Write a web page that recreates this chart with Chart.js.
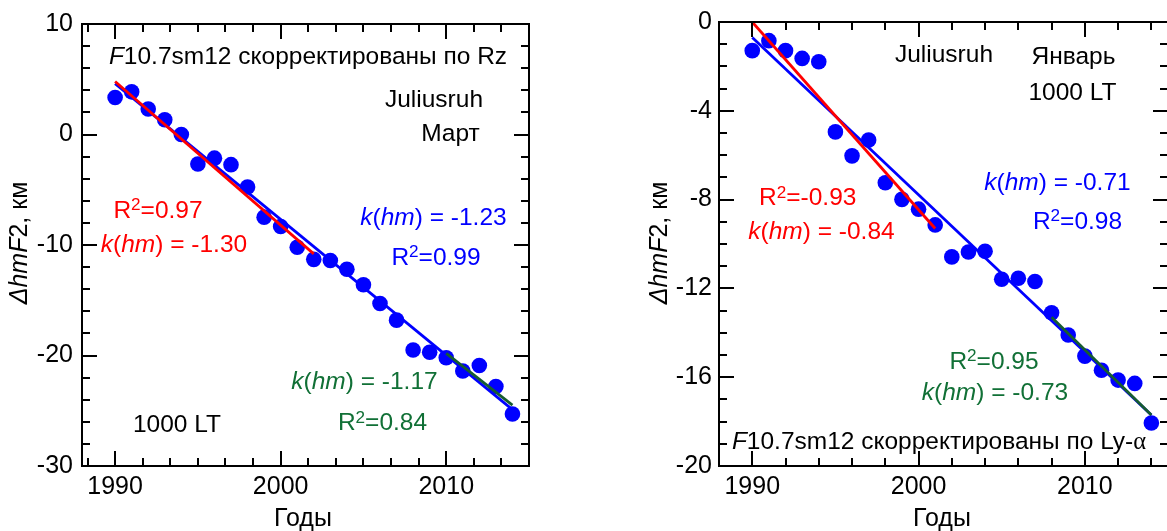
<!DOCTYPE html>
<html>
<head>
<meta charset="utf-8">
<script src="https://cdn.jsdelivr.net/npm/chart.js@4.4.0/dist/chart.umd.min.js"></script>
<style>
  html, body { margin: 0; padding: 0; background: #fff; overflow: hidden; width: 1167px; height: 531px; }
  .panel { position: absolute; top: 0; }
  #p1 { left: 0; }
  #p2 { left: 583px; }
</style>
</head>
<body>
<div class="panel" id="p1"><canvas id="c1" width="583" height="531"></canvas></div>
<div class="panel" id="p2"><canvas id="c2" width="600" height="531"></canvas></div>
<script>
// ============================================
// DATA
// ============================================
const years = [1990, 1991, 1992, 1993, 1994, 1995, 1996, 1997, 1998, 1999, 2000, 2001, 2002,
               2003, 2004, 2005, 2006, 2007, 2008, 2009, 2010, 2011, 2012, 2013, 2014];

// Март, F10.7sm12 corrected by Rz
const marchDhm = [3.35, 3.86, 2.31, 1.33, 0.0, -2.67, -2.14, -2.73, -4.75, -7.48, -8.32, -10.2, -11.3,
                  -11.4, -12.2, -13.6, -15.3, -16.8, -19.5, -19.7, -20.2, -21.4, -20.9, -22.8, -25.3];
// Январь, F10.7sm12 corrected by Ly-a
const janDhm = [-1.29, -0.84, -1.29, -1.64, -1.79, -4.95, -6.03, -5.32, -7.24, -7.99, -8.43, -9.14, -10.58,
                -10.36, -10.33, -11.59, -11.54, -11.69, -13.1, -14.1, -15.05, -15.69, -16.13, -16.28, -18.06];

// regression lines (end points)
const marchFitAllX = [1990, 2014],   marchFitAllY = [4.6, -24.9];
const marchFitEarlyX = [1990, 2002], marchFitEarlyY = [4.8, -10.8];
const marchFitLateX = [2010, 2014],  marchFitLateY = [-19.8, -24.5];
const janFitAllX = [1990, 2014],     janFitAllY = [-0.7, -17.7];
const janFitEarlyX = [1990, 2001],   janFitEarlyY = [0.0, -9.3];
const janFitLateX = [2008, 2014],    janFitLateY = [-13.3, -17.7];

// tick labels
const yearTicks = [1990, 2000, 2010];
const marchTicks = [10, 0, -10, -20, -30];
const janTicks = [0, -4, -8, -12, -16, -20];

// ============================================
// STYLE
// ============================================
const BLUE = '#0000ff', RED = '#ff0000', GREEN_TXT = '#117036', GREEN_LINE = '#165c30', BLACK = '#000';
const SANS = '"Liberation Sans", Arial, sans-serif';
const SERIF = '"Liberation Serif", "Times New Roman", serif';

// ============================================
// RICH TEXT (*italic*, ^sup^, ~serif~)
// ============================================
function parseRich(s) {
  const segs = [];
  let it = false, sup = false, serif = false, buf = '';
  for (const ch of s) {
    if (ch === '*' || ch === '^' || ch === '~') {
      if (buf) segs.push({ t: buf, it, sup, serif });
      buf = '';
      if (ch === '*') it = !it;
      else if (ch === '^') sup = !sup;
      else serif = !serif;
    } else buf += ch;
  }
  if (buf) segs.push({ t: buf, it, sup, serif });
  return segs;
}

function drawRich(ctx, s, cx, cy, size, color, rot) {
  const segs = parseRich(s);
  const fontOf = g => (g.it ? 'italic ' : '') + (g.sup ? size * 0.7 : size) + 'px ' + (g.serif ? SERIF : SANS);
  let w = 0;
  segs.forEach(g => { ctx.font = fontOf(g); g.w = ctx.measureText(g.t).width; w += g.w; });
  ctx.save();
  ctx.translate(cx, cy);
  if (rot) ctx.rotate(-Math.PI / 2);
  ctx.fillStyle = color;
  ctx.textBaseline = 'alphabetic';
  ctx.textAlign = 'left';
  const base = size * 0.358;
  let x = -w / 2;
  segs.forEach(g => {
    ctx.font = fontOf(g);
    ctx.fillText(g.t, x, g.sup ? base - size * 0.3 : base);
    x += g.w;
  });
  ctx.restore();
}

// ============================================
// FRAME + INWARD TICKS + TEXT PLUGIN
// ============================================
const frameTicks = {
  id: 'frameTicks',
  afterDraw(chart) {
    const p = chart.options.plugins.frameTicks;
    const { ctx, chartArea: a, scales: { x, y } } = chart;
    const isMajor = (v, list) => list.some(m => Math.abs(m - v) < 1e-6);
    ctx.save();
    ctx.strokeStyle = BLACK;
    ctx.lineWidth = 2;
    ctx.beginPath();
    ctx.rect(a.left, a.top, a.right - a.left, a.bottom - a.top);
    // x ticks, bottom and top
    for (let v = p.xStart; v <= x.max + 1e-6; v += p.xStep) {
      const px = Math.round(x.getPixelForValue(v));
      const len = isMajor(v, yearTicks) ? 15 : 8;
      ctx.moveTo(px, a.bottom); ctx.lineTo(px, a.bottom - len);
      ctx.moveTo(px, a.top); ctx.lineTo(px, a.top + len);
    }
    // y ticks, left and right
    for (let v = y.min; v <= y.max + 1e-6; v += p.yStep) {
      const py = Math.round(y.getPixelForValue(v));
      const len = isMajor(v, p.yMajor) ? 15 : 8;
      ctx.moveTo(a.left, py); ctx.lineTo(a.left + len, py);
      ctx.moveTo(a.right, py); ctx.lineTo(a.right - len, py);
    }
    ctx.stroke();
    ctx.restore();

    p.notes.forEach(n => drawRich(ctx, n.t, n.x, n.y, n.s || 24.5, n.c || BLACK, n.rot));
  }
};

// ============================================
// CHART FACTORY
// ============================================
const toXY = (xs, ys) => xs.map((v, i) => ({ x: v, y: ys[i] }));

function fitLine(xs, ys, color, order) {
  return {
    type: 'line', data: toXY(xs, ys), borderColor: color, borderWidth: 2.8,
    pointRadius: 0, fill: false, tension: 0, order
  };
}

function makePanel(id, cfg) {
  return new Chart(document.getElementById(id), {
    type: 'scatter',
    data: {
      datasets: [
        fitLine(cfg.earlyX, cfg.earlyY, RED, 0),
        fitLine(cfg.lateX, cfg.lateY, GREEN_LINE, 1),
        fitLine(cfg.allX, cfg.allY, BLUE, 2),
        {
          data: toXY(years, cfg.values), backgroundColor: BLUE, borderWidth: 0,
          pointRadius: 7.8, pointHoverRadius: 7.8, order: 5
        }
      ]
    },
    options: {
      responsive: false,
      animation: false,
      layout: { padding: { left: 0, top: 17, right: cfg.padRight, bottom: 0 } },
      plugins: {
        legend: { display: false },
        tooltip: { enabled: false },
        frameTicks: cfg.frame
      },
      scales: {
        x: {
          type: 'linear', min: 1988, max: 2015,
          grid: { display: false, drawTicks: false },
          border: { display: false },
          afterBuildTicks: s => { s.ticks = yearTicks.map(v => ({ value: v })); },
          afterFit: s => { s.height = 65; },
          ticks: {
            color: BLACK, padding: 6.5, maxRotation: 0, autoSkip: false,
            font: { family: SANS, size: 25 }, callback: v => String(v)
          }
        },
        y: {
          type: 'linear', min: cfg.yMin, max: cfg.yMax,
          grid: { display: false, drawTicks: false },
          border: { display: false },
          afterBuildTicks: s => { s.ticks = cfg.yTicks.map(v => ({ value: v })); },
          afterFit: s => { s.width = cfg.yWidth; },
          ticks: {
            color: BLACK, padding: cfg.yPad, autoSkip: false,
            font: { family: SANS, size: 25 }, callback: v => String(v)
          }
        }
      }
    },
    plugins: [frameTicks]
  });
}

// ============================================
// LEFT PANEL — Март
// ============================================
makePanel('c1', {
  values: marchDhm,
  allX: marchFitAllX, allY: marchFitAllY,
  earlyX: marchFitEarlyX, earlyY: marchFitEarlyY,
  lateX: marchFitLateX, lateY: marchFitLateY,
  yMin: -30, yMax: 10, yTicks: marchTicks, yWidth: 82, yPad: 9, padRight: 54,
  frame: {
    xStart: 1990 - 5 / 3, xStep: 5 / 3, yStep: 2, yMajor: marchTicks,
    notes: [
      { t: '*F*10.7sm12 скорректированы по Rz', x: 308, y: 55.5 },
      { t: 'Juliusruh', x: 434, y: 98 },
      { t: 'Март', x: 450.5, y: 132.5 },
      { t: '*k*(*hm*) = -1.23', x: 433.5, y: 216, c: BLUE },
      { t: 'R^2^=0.99', x: 436, y: 256, c: BLUE },
      { t: 'R^2^=0.97', x: 158, y: 209, c: RED },
      { t: '*k*(*hm*) = -1.30', x: 174, y: 243, c: RED },
      { t: '1000 LT', x: 177, y: 423 },
      { t: '*k*(*hm*) = -1.17', x: 364.5, y: 380, c: GREEN_TXT },
      { t: 'R^2^=0.84', x: 382.5, y: 421.7, c: GREEN_TXT },
      { t: 'Годы', x: 303, y: 517, s: 25 },
      { t: '*ΔhmF*2, км', x: 18, y: 243, s: 25, rot: true }
    ]
  }
});

// ============================================
// RIGHT PANEL — Январь
// ============================================
makePanel('c2', {
  values: janDhm,
  allX: janFitAllX, allY: janFitAllY,
  earlyX: janFitEarlyX, earlyY: janFitEarlyY,
  lateX: janFitLateX, lateY: janFitLateY,
  yMin: -20, yMax: 0, yTicks: janTicks, yWidth: 136, yPad: 7, padRight: 15,
  frame: {
    xStart: 1988, xStep: 2, yStep: 1, yMajor: janTicks,
    notes: [
      { t: 'Juliusruh', x: 361, y: 53 },
      { t: 'Январь', x: 490.5, y: 55 },
      { t: '1000 LT', x: 489.5, y: 91.7 },
      { t: '*k*(*hm*) = -0.71', x: 474.5, y: 181, c: BLUE },
      { t: 'R^2^=0.98', x: 494.5, y: 220, c: BLUE },
      { t: 'R^2^=-0.93', x: 224.7, y: 196.7, c: RED },
      { t: '*k*(*hm*) = -0.84', x: 238.5, y: 230, c: RED },
      { t: 'R^2^=0.95', x: 411, y: 360, c: GREEN_TXT },
      { t: '*k*(*hm*) = -0.73', x: 412, y: 391.7, c: GREEN_TXT },
      { t: '*F*10.7sm12 скорректированы по Ly-~α~', x: 356, y: 440.7 },
      { t: 'Годы', x: 359, y: 517, s: 25 },
      { t: '*ΔhmF*2, км', x: 75, y: 243, s: 25, rot: true }
    ]
  }
});
</script>
</body>
</html>
